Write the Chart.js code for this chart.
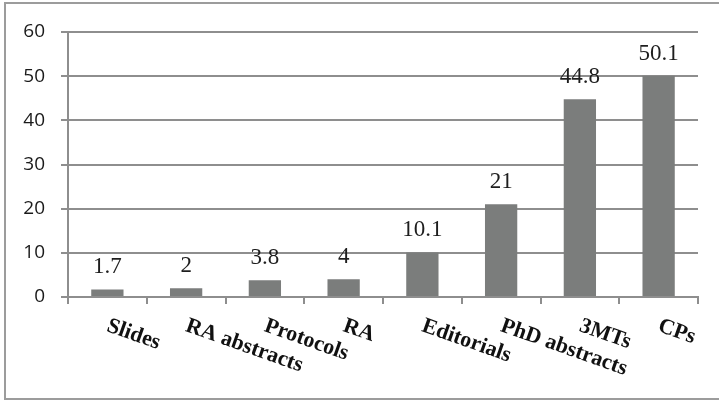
<!DOCTYPE html>
<html>
<head>
<meta charset="utf-8">
<script src="https://cdn.jsdelivr.net/npm/chart.js@4"></script>
<style>
  html, body { margin: 0; padding: 0; background: #ffffff; }
  canvas { display: block; }
</style>
</head>
<body>
<canvas id="chart" width="719" height="401"></canvas>
<script>
// Genre categories and their percentage values
const categories = ['Slides', 'RA abstracts', 'Protocols', 'RA', 'Editorials', 'PhD abstracts', '3MTs', 'CPs'];
const values = [1.7, 2, 3.8, 4, 10.1, 21, 44.8, 50.1];
const valueLabels = ['1.7', '2', '3.8', '4', '10.1', '21', '44.8', '50.1'];
const yTicks = [0, 10, 20, 30, 40, 50, 60];

const GRID = '#8e8e8e';
const BAR = '#7b7d7c';

// Outer frame around the whole chart
const framePlugin = {
  id: 'frame',
  afterDraw(chart) {
    const ctx = chart.ctx;
    ctx.save();
    ctx.strokeStyle = '#9c9c9c';
    ctx.lineWidth = 2;
    ctx.strokeRect(5, 3, 730, 396);
    ctx.restore();
  }
};

// Value labels above each bar
const valueLabelPlugin = {
  id: 'valueLabels',
  afterDatasetsDraw(chart) {
    const ctx = chart.ctx;
    const meta = chart.getDatasetMeta(0);
    ctx.save();
    ctx.font = '23px "Liberation Serif", "Times New Roman", serif';
    ctx.fillStyle = '#1e1e1e';
    ctx.textAlign = 'center';
    ctx.textBaseline = 'alphabetic';
    meta.data.forEach((bar, i) => {
      ctx.fillText(valueLabels[i], bar.x, bar.y - 16);
    });
    ctx.restore();
  }
};

// Slanted category labels hanging below the axis
const categoryLabelPlugin = {
  id: 'categoryLabels',
  afterDraw(chart) {
    const ctx = chart.ctx;
    const xScale = chart.scales.x;
    const top = xScale.top + 18;
    ctx.save();
    ctx.font = 'bold 22px "Liberation Serif", "Times New Roman", serif';
    ctx.fillStyle = '#111111';
    ctx.textAlign = 'left';
    ctx.textBaseline = 'top';
    categories.forEach((label, i) => {
      const x = xScale.getPixelForValue(i);
      ctx.save();
      ctx.translate(x + 4, top);
      ctx.rotate(19.5 * Math.PI / 180);
      ctx.fillText(label, 0, 0);
      ctx.restore();
    });
    ctx.restore();
  }
};

new Chart(document.getElementById('chart'), {
  type: 'bar',
  data: {
    labels: categories,
    datasets: [{
      data: values,
      backgroundColor: BAR,
      borderWidth: 0,
      categoryPercentage: 1,
      barPercentage: 0.41
    }]
  },
  options: {
    responsive: false,
    animation: false,
    events: [],
    layout: { padding: { left: 0, right: 21, top: 32, bottom: 0 } },
    plugins: {
      legend: { display: false },
      tooltip: { enabled: false },
      title: { display: false }
    },
    scales: {
      x: {
        grid: {
          offset: true,
          drawOnChartArea: false,
          drawTicks: true,
          tickLength: 7,
          color: GRID,
          lineWidth: 2
        },
        border: { display: true, color: GRID, width: 2 },
        ticks: { display: false },
        afterFit(scale) { scale.height = 104; }
      },
      y: {
        min: 0,
        max: 60,
        afterBuildTicks(scale) {
          scale.ticks = yTicks.map(v => ({ value: v }));
        },
        grid: {
          color: GRID,
          lineWidth: 2,
          tickLength: 7,
          drawTicks: true
        },
        border: { display: true, color: GRID, width: 2 },
        ticks: {
          padding: 16,
          color: '#1a1a1a',
          font: { family: '"Open Sans", "Liberation Sans", sans-serif', size: 19 }
        },
        afterFit(scale) { scale.width = 68; }
      }
    }
  },
  plugins: [framePlugin, valueLabelPlugin, categoryLabelPlugin]
});
</script>
</body>
</html>
